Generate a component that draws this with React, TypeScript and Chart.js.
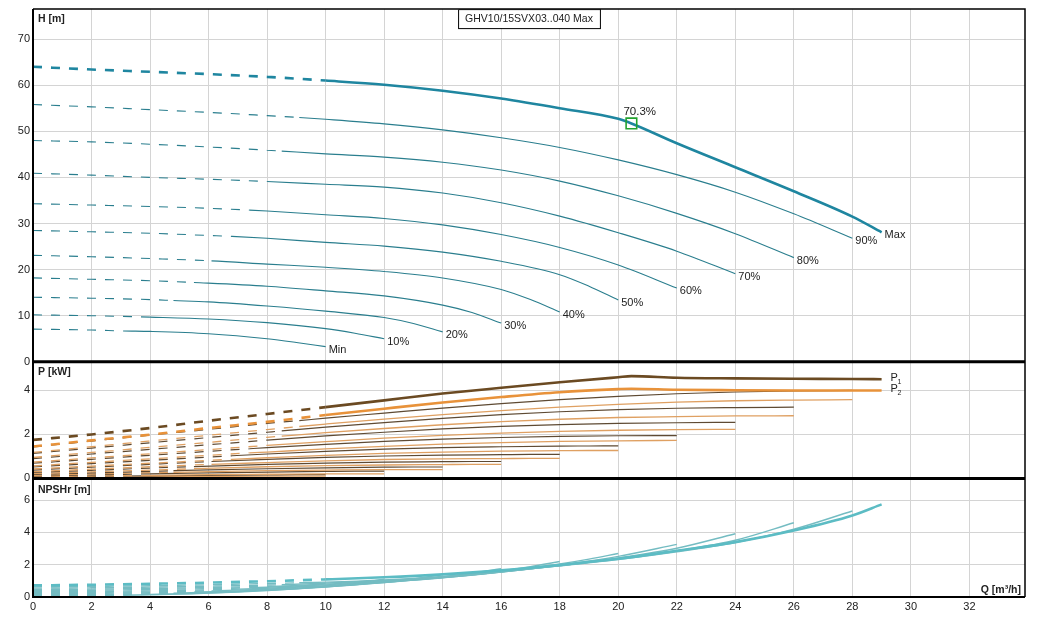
import { useEffect, useRef } from "react";
import { Chart, registerables } from "chart.js";

Chart.register(...registerables);

// speed curves, Max first
const curveNames = ["Max", "90%", "80%", "70%", "60%", "50%", "40%", "30%", "20%", "10%", "Min"];
// flow where the dashed (extrapolated) part of each curve ends
const dashEnds = [10, 9.1, 8.5, 8, 7.4, 6.8, 6.1, 5.5, 4.8, 4, 3.1];

// Q [m³/h] sample points per curve
const flows = [
  [0, 2, 4, 6, 8, 10, 12, 14, 16, 18, 20, 20.45, 22, 24, 26, 28, 29],
  [0, 2, 4, 6, 8, 9.1, 10, 12, 14, 16, 18, 20, 22, 24, 26, 28],
  [0, 2, 4, 6, 8, 8.5, 10, 12, 14, 16, 18, 20, 22, 24, 26],
  [0, 2, 4, 6, 8, 10, 12, 14, 16, 18, 20, 22, 24],
  [0, 2, 4, 6, 7.4, 8, 10, 12, 14, 16, 18, 20, 22],
  [0, 2, 4, 6, 6.8, 8, 10, 12, 14, 16, 18, 19, 20],
  [0, 2, 4, 6.1, 8, 10, 12, 14, 16, 17, 18],
  [0, 2, 4, 5.5, 8, 10, 12, 14, 15, 16],
  [0, 2, 4, 4.8, 6, 8, 10, 12, 13, 14],
  [0, 2, 4, 6, 8, 10, 11, 12],
  [0, 2, 3.1, 4, 6, 8, 9, 10],
];

// H [m]
const heads = [
  [64, 63.4, 62.9, 62.4, 61.8, 61.0, 60.1, 58.8, 57.1, 55.0, 52.7, 51.7, 47.4, 42.2, 37.0, 31.5, 28.1],
  [55.8, 55.3, 54.7, 54.1, 53.4, 53.0, 52.6, 51.6, 50.3, 48.6, 46.5, 43.8, 40.6, 36.8, 32.1, 26.8],
  [48.0, 47.7, 47.2, 46.6, 45.9, 45.7, 45.1, 44.4, 43.3, 41.6, 39.2, 36.0, 32.2, 27.8, 22.6],
  [40.9, 40.5, 40.0, 39.6, 39.1, 38.5, 37.9, 36.6, 34.5, 31.6, 28.0, 24.0, 19.1],
  [34.3, 34.0, 33.7, 33.3, 32.9, 32.7, 31.9, 31.1, 29.7, 27.6, 24.8, 21.0, 16.0],
  [28.5, 28.2, 27.9, 27.4, 27.2, 26.8, 25.9, 25.1, 23.8, 21.8, 18.9, 16.4, 13.4],
  [23.1, 22.8, 22.4, 21.9, 21.2, 20.5, 19.6, 18.2, 15.7, 13.5, 10.8],
  [18.2, 17.9, 17.6, 17.2, 16.4, 15.4, 14.3, 12.3, 10.7, 8.4],
  [14.0, 13.8, 13.5, 13.3, 13.0, 12.1, 11.0, 9.6, 8.3, 6.5],
  [10.2, 10.0, 9.7, 9.3, 8.5, 7.2, 6.2, 5.0],
  [7.1, 6.9, 6.7, 6.6, 6.1, 5.0, 4.2, 3.3],
];

// P1 [kW]
const power1 = [
  [1.75, 2.0, 2.29, 2.62, 2.93, 3.24, 3.55, 3.86, 4.12, 4.37, 4.6, 4.65, 4.58, 4.55, 4.53, 4.52, 4.51],
  [1.43, 1.7, 1.97, 2.23, 2.5, 2.63, 2.74, 2.97, 3.2, 3.4, 3.58, 3.73, 3.85, 3.93, 3.98, 4.0],
  [1.14, 1.38, 1.62, 1.86, 2.1, 2.16, 2.33, 2.54, 2.73, 2.9, 3.03, 3.13, 3.19, 3.22, 3.24],
  [0.9, 1.11, 1.32, 1.53, 1.74, 1.93, 2.1, 2.25, 2.37, 2.45, 2.5, 2.53, 2.55],
  [0.69, 0.87, 1.05, 1.23, 1.35, 1.4, 1.55, 1.68, 1.79, 1.86, 1.91, 1.94, 1.95],
  [0.52, 0.67, 0.82, 0.97, 1.03, 1.11, 1.23, 1.33, 1.4, 1.44, 1.47, 1.475, 1.48],
  [0.38, 0.51, 0.64, 0.77, 0.87, 0.96, 1.02, 1.06, 1.08, 1.09, 1.09],
  [0.27, 0.37, 0.47, 0.54, 0.64, 0.7, 0.74, 0.76, 0.77, 0.77],
  [0.18, 0.25, 0.32, 0.35, 0.39, 0.44, 0.48, 0.51, 0.52, 0.52],
  [0.11, 0.16, 0.21, 0.25, 0.29, 0.32, 0.33, 0.33],
  [0.06, 0.09, 0.11, 0.12, 0.14, 0.16, 0.17, 0.17],
];

// P2 [kW]
const power2 = [
  [1.45, 1.73, 1.99, 2.29, 2.57, 2.88, 3.17, 3.45, 3.7, 3.92, 4.06, 4.08, 4.03, 4.01, 4.0, 4.0, 4.0],
  [1.18, 1.44, 1.7, 1.96, 2.22, 2.36, 2.47, 2.7, 2.9, 3.08, 3.24, 3.37, 3.47, 3.53, 3.56, 3.58],
  [0.95, 1.18, 1.41, 1.64, 1.87, 1.92, 2.08, 2.27, 2.44, 2.58, 2.69, 2.77, 2.81, 2.84, 2.85],
  [0.74, 0.93, 1.12, 1.31, 1.5, 1.67, 1.83, 1.96, 2.06, 2.14, 2.19, 2.22, 2.23],
  [0.57, 0.73, 0.89, 1.05, 1.16, 1.2, 1.34, 1.46, 1.56, 1.63, 1.68, 1.71, 1.73],
  [0.43, 0.56, 0.69, 0.82, 0.87, 0.94, 1.05, 1.14, 1.2, 1.24, 1.26, 1.27, 1.27],
  [0.31, 0.42, 0.53, 0.64, 0.72, 0.8, 0.86, 0.89, 0.9, 0.91, 0.91],
  [0.22, 0.3, 0.38, 0.44, 0.53, 0.58, 0.61, 0.63, 0.64, 0.64],
  [0.14, 0.2, 0.26, 0.28, 0.31, 0.35, 0.38, 0.4, 0.4, 0.4],
  [0.08, 0.11, 0.14, 0.17, 0.19, 0.21, 0.21, 0.21],
  [0.04, 0.06, 0.07, 0.08, 0.09, 0.1, 0.1, 0.1],
];

// NPSHr [m]
const npshr = [
  [0.72, 0.76, 0.82, 0.89, 0.98, 1.09, 1.22, 1.4, 1.65, 1.98, 2.37, 2.47, 2.87, 3.4, 4.12, 5.05, 5.74],
  [0.63, 0.66, 0.7, 0.76, 0.84, 0.88, 0.92, 1.06, 1.28, 1.58, 1.93, 2.32, 2.8, 3.38, 4.2, 5.33],
  [0.55, 0.57, 0.61, 0.67, 0.74, 0.76, 0.86, 1.02, 1.25, 1.56, 1.93, 2.36, 2.87, 3.52, 4.6],
  [0.47, 0.49, 0.53, 0.59, 0.66, 0.8, 0.98, 1.22, 1.55, 1.95, 2.42, 3.02, 3.92],
  [0.4, 0.42, 0.46, 0.52, 0.57, 0.6, 0.75, 0.95, 1.2, 1.55, 1.98, 2.52, 3.26],
  [0.33, 0.35, 0.38, 0.44, 0.47, 0.54, 0.7, 0.92, 1.19, 1.56, 2.05, 2.35, 2.7],
  [0.27, 0.29, 0.32, 0.38, 0.49, 0.66, 0.9, 1.2, 1.62, 1.88, 2.2],
  [0.21, 0.23, 0.26, 0.3, 0.44, 0.63, 0.9, 1.25, 1.48, 1.75],
  [0.16, 0.17, 0.2, 0.23, 0.29, 0.41, 0.62, 0.92, 1.12, 1.4],
  [0.12, 0.13, 0.16, 0.24, 0.4, 0.64, 0.85, 1.1],
  [0.08, 0.09, 0.11, 0.14, 0.25, 0.45, 0.62, 0.85],
];

// duty point
const dutyQ = 20.45;
const dutyH = 51.7;
const dutyLabel = "70.3%";
const title = "GHV10/15SVX03..040 Max";

const FONT = "'Liberation Sans', Arial, sans-serif";
const GRID = "#d4d4d4";

const overlay = {
  id: "overlay",
  afterDraw(chart: any) {
    const { ctx, chartArea: a, scales } = chart;
    const x = scales.x;
    const yH = scales.yH;
    const yP = scales.yP;
    const yN = scales.yN;
    ctx.save();

    // frame and panel separators
    ctx.strokeStyle = "#000";
    ctx.lineWidth = 1.5;
    ctx.beginPath();
    ctx.moveTo(a.left, a.top);
    ctx.lineTo(a.right, a.top);
    ctx.lineTo(a.right, a.bottom);
    ctx.stroke();
    ctx.lineWidth = 2;
    ctx.beginPath();
    ctx.moveTo(a.left, a.top);
    ctx.lineTo(a.left, a.bottom);
    ctx.lineTo(a.right, a.bottom);
    ctx.stroke();
    ctx.lineWidth = 3;
    ctx.beginPath();
    ctx.moveTo(a.left, yP.top);
    ctx.lineTo(a.right, yP.top);
    ctx.moveTo(a.left, yN.top);
    ctx.lineTo(a.right, yN.top);
    ctx.stroke();

    // curve end labels
    ctx.fillStyle = "#222";
    ctx.font = `11px ${FONT}`;
    ctx.textAlign = "left";
    ctx.textBaseline = "middle";
    curveNames.forEach((name, k) => {
      const q = flows[k][flows[k].length - 1];
      const h = heads[k][heads[k].length - 1];
      ctx.fillText(name, x.getPixelForValue(q) + 3, yH.getPixelForValue(h) + 3);
    });

    // P1 / P2
    const qm = flows[0][flows[0].length - 1];
    const px = x.getPixelForValue(qm) + 9;
    [power1[0][power1[0].length - 1], power2[0][power2[0].length - 1]].forEach((v, i) => {
      const py = yP.getPixelForValue(v);
      ctx.font = `11px ${FONT}`;
      ctx.fillText("P", px, py - 1);
      ctx.font = `7px ${FONT}`;
      ctx.fillText(String(i + 1), px + 7, py + 3);
    });

    // duty point label
    ctx.font = `11.5px ${FONT}`;
    ctx.fillText(dutyLabel, x.getPixelForValue(dutyQ) - 8, yH.getPixelForValue(dutyH) - 12);

    // axis titles
    ctx.font = `bold 10.5px ${FONT}`;
    ctx.fillText("H [m]", a.left + 5, yH.top + 10);
    ctx.fillText("P [kW]", a.left + 5, yP.top + 10);
    ctx.fillText("NPSHr [m]", a.left + 5, yN.top + 12);
    ctx.textAlign = "right";
    ctx.fillText("Q [m³/h]", a.right - 4, a.bottom - 7);

    // title box
    ctx.font = `10.5px ${FONT}`;
    const tw = ctx.measureText(title).width;
    const cx = (a.left + a.right) / 2;
    const bw = tw + 14;
    ctx.fillStyle = "#fff";
    ctx.fillRect(cx - bw / 2, a.top, bw, 19);
    ctx.strokeStyle = "#000";
    ctx.lineWidth = 1;
    ctx.strokeRect(cx - bw / 2 + 0.5, a.top + 0.5, bw, 19);
    ctx.fillStyle = "#222";
    ctx.textAlign = "center";
    ctx.fillText(title, cx, a.top + 10);

    ctx.restore();
  },
};

export default function App() {
  const canvasRef = useRef<HTMLCanvasElement | null>(null);

  useEffect(() => {
    document.body.style.margin = "0";
    if (!canvasRef.current) return;

    const datasets: any[] = [];
    // duty point marker (first = drawn on top)
    datasets.push({
      data: [{ x: dutyQ, y: dutyH }],
      yAxisID: "yH",
      showLine: false,
      pointStyle: "rect",
      pointRadius: 7.5,
      borderColor: "#22a22e",
      borderWidth: 1.6,
      backgroundColor: "rgba(0,0,0,0)",
    });

    curveNames.forEach((_name, k) => {
      const isMax = k === 0;
      const dashEnd = dashEnds[k];
      const segment = {
        borderDash: (c: any) => (c.p1.parsed.x <= dashEnd + 1e-6 ? [9, 9] : []),
      };
      const pts = (vals: number[]) => flows[k].map((q, i) => ({ x: q, y: vals[i] }));
      const common = { pointRadius: 0, cubicInterpolationMode: "monotone", segment, fill: false };
      datasets.push({
        ...common,
        data: pts(heads[k]),
        yAxisID: "yH",
        borderColor: isMax ? "#1f86a0" : "#2a7e8e",
        borderWidth: isMax ? 2.6 : 1.1,
      });
      datasets.push({
        ...common,
        data: pts(power1[k]),
        yAxisID: "yP",
        borderColor: isMax ? "#6b4a22" : "#5e4a33",
        borderWidth: isMax ? 2.6 : 1.2,
      });
      datasets.push({
        ...common,
        data: pts(power2[k]),
        yAxisID: "yP",
        borderColor: isMax ? "#e8923a" : "#dfa062",
        borderWidth: isMax ? 2.6 : 1.3,
      });
      datasets.push({
        ...common,
        data: pts(npshr[k]),
        yAxisID: "yN",
        borderColor: isMax ? "#5cbcc4" : "#74bcc2",
        borderWidth: isMax ? 2.6 : 1.4,
      });
    });

    const tickFont = { family: FONT, size: 11 };
    const yAxis = (weight: number, max: number, step: number) => ({
      type: "linear",
      position: "left",
      stack: "pump",
      stackWeight: weight,
      min: 0,
      max,
      ticks: { stepSize: step, includeBounds: false, color: "#222", font: tickFont, padding: 3 },
      grid: { color: GRID, drawTicks: false },
      border: { display: false },
      afterFit: (s: any) => {
        s.width = 33;
        s.paddingTop = 0;
        s.paddingBottom = 0;
      },
    });

    const chart = new Chart(canvasRef.current, {
      type: "line",
      data: { datasets },
      options: {
        animation: false,
        responsive: true,
        maintainAspectRatio: false,
        events: [],
        layout: { padding: { top: 7, right: 13, left: 0, bottom: 0 } },
        plugins: { legend: { display: false }, tooltip: { enabled: false } },
        scales: {
          x: {
            type: "linear",
            min: 0,
            max: 33.9,
            ticks: { stepSize: 2, includeBounds: false, color: "#222", font: tickFont, padding: 3, maxRotation: 0 },
            grid: { color: GRID, drawTicks: false },
            border: { display: false },
            afterFit: (s: any) => {
              s.height = 21;
            },
          },
          yN: yAxis(119, 7.35, 2),
          yP: yAxis(117, 5.3, 2),
          yH: yAxis(354, 76.5, 10),
        } as any,
      },
      plugins: [overlay],
    });

    return () => {
      chart.destroy();
    };
  }, []);

  return (
    <div style={{ position: "relative", width: 1038, height: 618, background: "#fff" }}>
      <canvas ref={canvasRef} style={{ display: "block" }}></canvas>
    </div>
  );
}
